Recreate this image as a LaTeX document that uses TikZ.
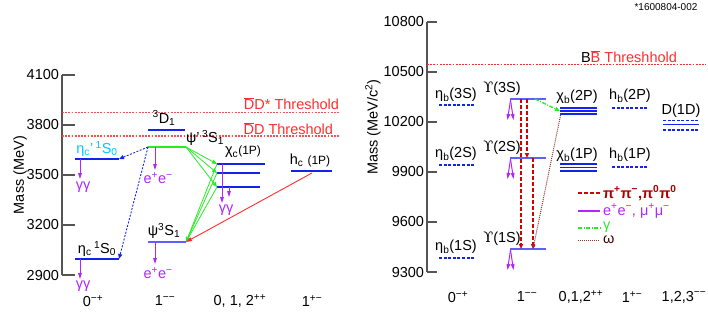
\documentclass[tikz,border=0pt]{standalone}
\usepackage{fontspec}
\setmainfont{Liberation Sans}
\newfontfamily\upsfont{DejaVu Serif}
\usetikzlibrary{arrows.meta,calc}
\definecolor{axisgray}{RGB}{85,85,85}
\definecolor{lvlblue}{RGB}{20,35,235}
\definecolor{lightblue}{RGB}{95,95,255}
\definecolor{etacyan}{RGB}{0,200,255}
\definecolor{ppl}{RGB}{175,40,250}
\definecolor{grn}{RGB}{40,235,40}
\definecolor{thred}{RGB}{255,45,45}
\definecolor{thpink}{RGB}{255,80,80}
\definecolor{dred}{RGB}{215,0,0}
\definecolor{brn}{RGB}{140,55,45}
\definecolor{legred}{RGB}{170,0,0}
\definecolor{legdark}{RGB}{60,0,0}
\newcommand\mysup[1]{\textsuperscript{#1}}
\newcommand\mysub[1]{\textsubscript{#1}}
\newcommand\barD{$\overline{\mbox{D}}$}
\newcommand\barB{$\overline{\mbox{B}}$}
\newcommand\Ups{{\upsfont ϒ}}
\newcommand\mklevel[5]{%
  \coordinate (#1-l) at (#3,#5);
  \coordinate (#1-r) at (#4,#5);
  \draw[#2] (#1-l) -- (#1-r);}
\begin{document}
\begin{tikzpicture}[x=1pt,y=-1pt,
  every node/.style={font=\fontsize{14.5}{17}\selectfont, inner sep=0pt, outer sep=0pt},
  axisline/.style={draw=axisgray, line width=1.6pt},
  tickline/.style={draw=axisgray, line width=1.4pt},
  lvlthick/.style={draw=lvlblue, line width=2.8pt},
  lvlmid/.style={draw=lvlblue, line width=1.8pt},
  lvlthin/.style={draw=lightblue, line width=1.4pt},
  lvldash/.style={draw=lvlblue, line width=1.5pt, dash pattern=on 3pt off 1.6pt},
  lvlfine/.style={draw=lvlblue, line width=1.2pt},
  greenlvl/.style={draw=grn, line width=1.2pt},
  ee/.style={draw=ppl, line width=1pt, -{Triangle[length=6pt,width=3.6pt]}},
  grarrow/.style={draw=grn, line width=0.8pt, -{Triangle[length=5pt,width=4pt]}},
  bluedot/.style={draw=lvlblue, line width=0.9pt, dash pattern=on 2pt off 1.5pt, -{Triangle[length=5pt,width=4pt]}},
  redarrow/.style={draw=thred, line width=0.9pt, -{Triangle[length=6pt,width=4pt]}},
  pipiline/.style={draw=dred, line width=1.6pt, dash pattern=on 4pt off 2pt},
  pipi/.style={pipiline, -{Triangle[length=5pt,width=4pt]}},
  gdashline/.style={draw=grn, line width=1.3pt, dash pattern=on 4pt off 1.5pt on 1pt off 1.5pt},
  gdash/.style={gdashline, -{Triangle[length=5pt,width=4pt]}},
  omegaline/.style={draw=brn, line width=1pt, dash pattern=on 1pt off 1pt},
  omegadot/.style={omegaline, -{Triangle[length=4pt,width=3pt]}},
  thresh/.style={draw=thpink, line width=1.1pt, dash pattern=on 1.8pt off 1.4pt},
]
\useasboundingbox (0,0) rectangle (708,317);

% ================= LEFT PANEL =================
\coordinate (LA-top) at (62,75);
\coordinate (LA-bot) at (62,275);
\draw[axisline] (LA-top) -- (LA-bot);
\foreach \m/\yy in {4100/75,3800/125,3500/175,3200/225,2900/275}{
  \draw[tickline] (62,\yy) -- (75,\yy);
  \node[anchor=east] (lt\m) at (59,\yy) {\m};
}
\node[rotate=90] (lylab) at (20,175) {Mass (MeV)};

% thresholds
\coordinate (ddst-l) at (62,112.5); \coordinate (ddst-r) at (340,112.5);
\draw[thresh] (ddst-l) -- (ddst-r);
\node[text=thred, anchor=east] (ddstlab) at (339,104) {\barD D* Threshold};
\coordinate (dd-l) at (62,136); \coordinate (dd-r) at (340,136);
\draw[thresh] (dd-l) -- (dd-r);
\node[text=thred, anchor=east] (ddlab) at (333,129) {\barD D Threshold};

% levels
\mklevel{etacP}{lvlthick}{75}{119}{159}
\mklevel{etac}{lvlthick}{75}{119}{259}
\mklevel{Done}{lvlthick}{148}{185}{130}
\mklevel{psiP}{greenlvl}{148}{186}{147}
\mklevel{psi}{lvlthin}{148}{186}{242}
\mklevel{chiA}{lvlmid}{217}{265}{164}
\mklevel{chiB}{lvlmid}{217}{260}{173}
\mklevel{chiC}{lvlthick}{217}{260}{187}
\mklevel{hc}{lvlmid}{291}{332}{171}

% labels
\node[text=etacyan] (etacPlab) at (97,149) {η\mysub{c}'\,\mysup{1}S\mysub{0}};
\node (etaclab) at (97,249) {η\mysub{c}\,\mysup{1}S\mysub{0}};
\node (Donelab) at (164,118) {\mysup{3}D\mysub{1}};
\node (psiPlab) at (205,138) {ψ'\,\mysup{3}S\mysub{1}};
\node (psilab) at (164,231) {ψ\mysup{3}S\mysub{1}};
\node (chiclab) at (243,152) {χ\mysub{c}{\fontsize{12}{14}\selectfont(1P)}};
\node (hclab) at (310,160) {h\mysub{c} {\fontsize{12}{14}\selectfont(1P)}};

% decays to gamma gamma / e+e-
\coordinate (g1s) at (80,159); \coordinate (g1e) at (80,179);
\draw[ee] (g1s) -- (g1e);
\node[text=ppl] (gg1) at (83,187) {γγ};
\coordinate (g2s) at (80,259); \coordinate (g2e) at (80,279);
\draw[ee] (g2s) -- (g2e);
\node[text=ppl] (gg2) at (83,286) {γγ};
\coordinate (e1s) at (155,147); \coordinate (e1e) at (155,170);
\draw[ee] (e1s) -- (e1e);
\node[text=ppl] (ee1) at (158,178) {e\mysup{+}e\mysup{−}};
\coordinate (e2s) at (155,242); \coordinate (e2e) at (155,264);
\draw[ee] (e2s) -- (e2e);
\node[text=ppl] (ee2) at (158,273) {e\mysup{+}e\mysup{−}};
\coordinate (g3s) at (222,164); \coordinate (g3e) at (222,203);
\draw[ee] (g3s) -- (g3e);
\coordinate (g4s) at (229,187); \coordinate (g4e) at (229,197);
\draw[ee] (g4s) -- (g4e);
\node[text=ppl] (gg3) at (226,210) {γγ};

% transitions
\draw[bluedot] (psiP-l) -- (etacP-r);
\draw[bluedot] (psiP-l) -- (etac-r);
\foreach \c in {chiA,chiB,chiC}{
  \draw[grarrow] (psiP-r) -- (\c-l);
  \draw[grarrow] (\c-l) -- (psi-r);
}
\coordinate (hcs) at (312,173);
\draw[redarrow] (hcs) -- (psi-r);

% bottom labels
\node (lq1) at (93,301) {0\mysup{−+}};
\node (lq2) at (165,301) {1\mysup{−−}};
\node (lq3) at (240,301) {0, 1, 2\mysup{++}};
\node (lq4) at (312,301) {1\mysup{+−}};

% ================= RIGHT PANEL =================
\node[font=\fontsize{10}{12}\selectfont] (code) at (666,7) {*1600804-002};
\coordinate (RA-top) at (427,22);
\coordinate (RA-bot) at (427,272);
\draw[axisline] (RA-top) -- (RA-bot);
\foreach \m/\yy in {10800/22,10500/72,10200/122,9900/172,9600/222,9300/272}{
  \draw[tickline] (427,\yy) -- (437,\yy);
  \node[anchor=east] (rt\m) at (424,\yy) {\m};
}
\node[rotate=90] (rylab) at (373,127) {Mass (MeV/c\mysup{2})};

\coordinate (bb-l) at (427,64.5); \coordinate (bb-r) at (706,64.5);
\draw[thresh, draw=thred] (bb-l) -- (bb-r);
\node (bblab) at (629,57) {B\textcolor{thred}{\barB\ Threshhold}};

% levels
\mklevel{eb3}{lvldash}{439}{475}{105}
\mklevel{eb2}{lvldash}{439}{475}{165}
\mklevel{eb1}{lvldash}{439}{475}{258}
\mklevel{U3}{lvlthin}{510}{546}{99}
\mklevel{U2}{lvlthin}{510}{546}{158}
\mklevel{U1}{lvlthin}{510}{546}{249}
\mklevel{cbA}{lvlfine}{560}{597}{108}
\mklevel{cbB}{lvlfine}{560}{597}{111}
\mklevel{cbC}{lvlfine}{560}{597}{114}
\mklevel{cbD}{lvlfine}{560}{597}{164}
\mklevel{cbE}{lvlfine}{560}{597}{167.5}
\mklevel{cbF}{lvlfine}{560}{597}{171}
\mklevel{hb2}{lvldash}{612}{647}{108}
\mklevel{hb1}{lvldash}{612}{647}{167}
\mklevel{dA}{lvldash}{663}{699}{120.5}
\mklevel{dB}{lvlmid}{663}{699}{124.5}
\mklevel{dC}{lvldash}{663}{699}{130}

% labels
\node (eb3lab) at (456,95) {η\mysub{b}(3S)};
\node (eb2lab) at (456,154) {η\mysub{b}(2S)};
\node (eb1lab) at (456,247) {η\mysub{b}(1S)};
\node (U3lab) at (502,89) {\Ups(3S)};
\node (U2lab) at (502,148) {\Ups(2S)};
\node (U1lab) at (502,239) {\Ups(1S)};
\node (cb2lab) at (577,97) {χ\mysub{b}(2P)};
\node (cb1lab) at (577,155) {χ\mysub{b}(1P)};
\node (hb2lab) at (630,96) {h\mysub{b}(2P)};
\node (hb1lab) at (630,155) {h\mysub{b}(1P)};
\node (dlab) at (681,111) {D(1D)};

% lepton decays of Upsilon
\foreach \u/\yy in {U3/99,U2/158,U1/249}{
  \coordinate (\u-d) at (510.5,\yy+1);
  \coordinate (\u-da) at (507.5,\yy+21);
  \coordinate (\u-db) at (513.5,\yy+21);
  \draw[ee] (\u-d) -- (\u-da);
  \draw[ee] (\u-d) -- (\u-db);
}

% transitions
\coordinate (p31s) at (521,99); \coordinate (p31e) at (521,249);
\draw[pipi] (p31s) -- (p31e);
\coordinate (p32s) at (527,99); \coordinate (p32e) at (527,158);
\draw[pipi] (p32s) -- (p32e);
\coordinate (p21s) at (533,158); \coordinate (p21e) at (533,249);
\draw[pipi] (p21s) -- (p21e);
\coordinate (gs) at (535,99);
\draw[gdash] (gs) -- (cbB-l);
\coordinate (ws) at (561,113);
\draw[omegadot] (ws) -- (p21e);

% legend
\coordinate (lg1-l) at (578,193); \coordinate (lg1-r) at (600,193);
\draw[pipiline] (lg1-l) -- (lg1-r);
\node[anchor=west, text=legred, font=\fontsize{14.5}{17}\selectfont\bfseries] (lg1) at (603,193) {π\mysup{+}π\mysup{−},π\mysup{0}π\mysup{0}};
\coordinate (lg2-l) at (578,211); \coordinate (lg2-r) at (600,211);
\draw[draw=ppl, line width=2pt] (lg2-l) -- (lg2-r);
\node[anchor=west, text=ppl] (lg2) at (603,211) {e\mysup{+}e\mysup{−}, μ\mysup{+}μ\mysup{−}};
\coordinate (lg3-l) at (578,228); \coordinate (lg3-r) at (600,228);
\draw[gdashline] (lg3-l) -- (lg3-r);
\node[anchor=west, text=grn] (lg3) at (603,227) {γ};
\coordinate (lg4-l) at (578,240); \coordinate (lg4-r) at (600,240);
\draw[omegaline] (lg4-l) -- (lg4-r);
\node[anchor=west, text=legdark] (lg4) at (603,240) {ω};

% bottom labels
\node (rq1) at (458,297) {0\mysup{−+}};
\node (rq2) at (527,297) {1\mysup{−−}};
\node (rq3) at (581,297) {0,1,2\mysup{++}};
\node (rq4) at (632,297) {1\mysup{+−}};
\node (rq5) at (684,297) {1,2,3\mysup{−−}};
\end{tikzpicture}
\end{document}
